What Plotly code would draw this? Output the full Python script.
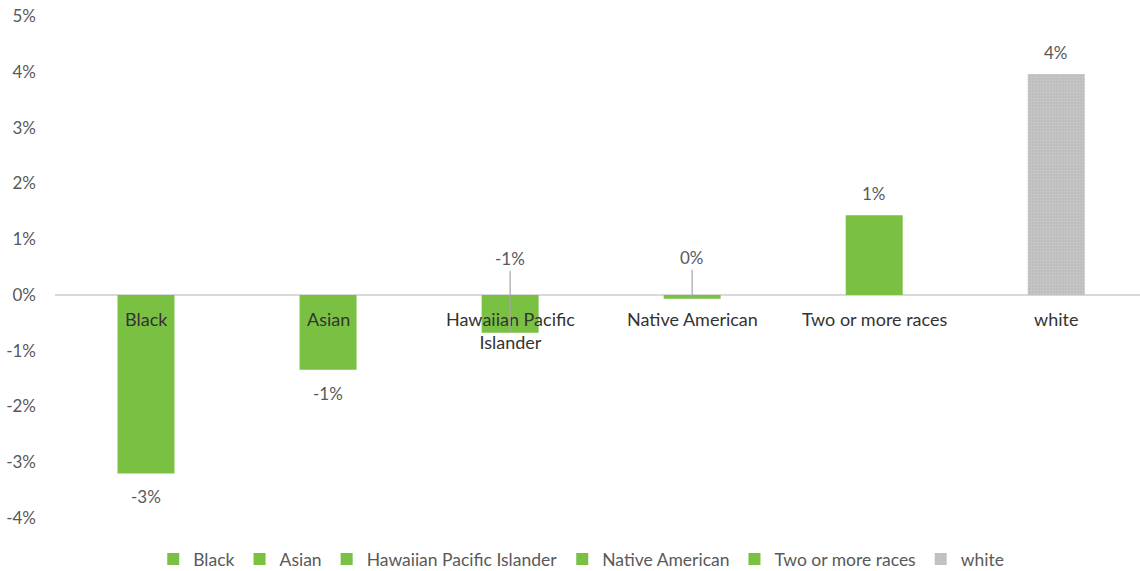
import plotly.graph_objects as go

categories = ["Black", "Asian", "Hawaiian Pacific Islander", "Native American",
              "Two or more races", "white"]
axis_labels = ["Black", "Asian", "Hawaiian Pacific<br>Islander", "Native American",
               "Two or more races", "white"]
values = [-0.032, -0.0134, -0.0068, -0.0007, 0.0143, 0.0396]
colors = ["#7AC143", "#7AC143", "#7AC143", "#7AC143", "#7AC143", "#BFBFBF"]
tick_percents = [-4, -3, -2, -1, 0, 1, 2, 3, 4, 5]

FONT = "Lato, Carlito, Calibri, sans-serif"
GREY_TEXT = "#595959"
DARK_TEXT = "#333333"

fig = go.Figure()

for cat, val, col in zip(categories, values, colors):
    marker = dict(color=col, line=dict(width=0))
    if cat == "white":
        marker["pattern"] = dict(shape=".", fgcolor="#D6D6D6", bgcolor="#BDBDBD",
                                 size=3, solidity=0.4)
    fig.add_trace(go.Bar(x=[cat], y=[val], name=cat, width=0.313, marker=marker,
                         hoverinfo="skip"))

annotations = []
# category names sit just under the zero line
for cat, lab in zip(categories, axis_labels):
    annotations.append(dict(x=cat, y=0, text=lab, showarrow=False, yanchor="top",
                            yshift=-11,
                            font=dict(family=FONT, size=18, color=DARK_TEXT)))

# value labels, with leader lines for the short bars
leader_offsets = {"Hawaiian Pacific Islander": -74, "Native American": -41}
for cat, val in zip(categories, values):
    txt = f"{round(val * 100):.0f}%"
    if txt == "-0%":
        txt = "0%"
    if cat in leader_offsets:
        annotations.append(dict(x=cat, y=val, text=txt, showarrow=True, arrowhead=0,
                                arrowwidth=1.2, arrowcolor="#A6A6A6", ax=0,
                                ay=leader_offsets[cat], standoff=0,
                                font=dict(family=FONT, size=17, color=GREY_TEXT)))
    else:
        annotations.append(dict(x=cat, y=val, text=txt, showarrow=False,
                                yanchor="top" if val < 0 else "bottom",
                                yshift=-11 if val < 0 else 9,
                                font=dict(family=FONT, size=17, color=GREY_TEXT)))

fig.update_layout(
    width=1140, height=571,
    margin=dict(l=55, r=0, t=16, b=53),
    plot_bgcolor="white", paper_bgcolor="white",
    barmode="overlay",
    font=dict(family=FONT, size=17, color=GREY_TEXT),
    xaxis=dict(showticklabels=False, showgrid=False, zeroline=False, showline=False,
               range=[-0.5, 5.46]),
    yaxis=dict(range=[-0.04, 0.05], tickvals=[p / 100 for p in tick_percents],
               ticktext=[f"{p}%" for p in tick_percents],
               showgrid=False, zeroline=True, zerolinecolor="#D9D9D9",
               zerolinewidth=1.5, showline=False, ticks="", ticklabelstandoff=18,
               tickfont=dict(family=FONT, size=17, color=GREY_TEXT)),
    legend=dict(orientation="h", x=0.485, xanchor="center",
                yref="container", y=0.021, yanchor="middle",
                font=dict(family=FONT, size=17.5, color=GREY_TEXT),
                itemwidth=30, tracegroupgap=0),
    annotations=annotations,
)

fig.write_html("out.html")
